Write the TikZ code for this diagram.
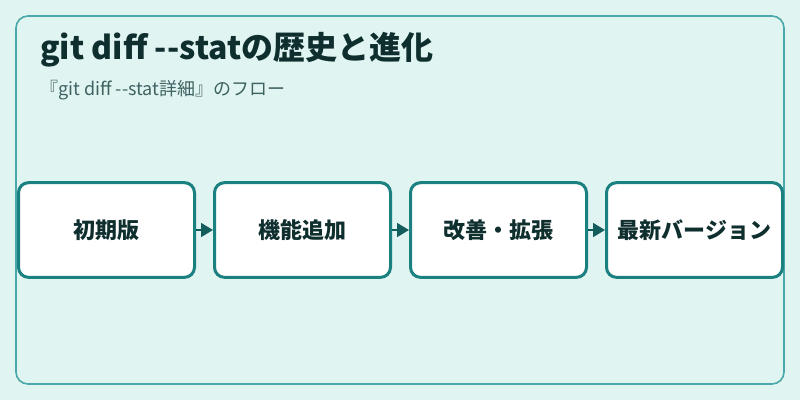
\documentclass[tikz,border=0pt]{standalone}
\usepackage{fontspec}
\setmainfont{Noto Sans CJK JP}
\usepackage{tikz}
\usetikzlibrary{positioning,arrows.meta}

\definecolor{bgcol}{HTML}{E0F4F2}
\definecolor{framecol}{HTML}{4AA8A8}
\definecolor{boxcol}{HTML}{1A8080}
\definecolor{arrowcol}{HTML}{135C5C}
\definecolor{titlecol}{HTML}{0F2E2E}
\definecolor{subcol}{HTML}{3F6262}

\tikzset{
  stage/.style={draw=boxcol, line width=2.25pt, fill=white, rounded corners=7.5pt,
    minimum width=132pt, minimum height=71pt, inner sep=0pt,
    font=\fontsize{16.5}{19}\selectfont\bfseries, text=titlecol},
  flow/.style={-{Triangle[length=9pt,width=10.5pt]}, arrowcol, line width=1.2pt}
}

\begin{document}
\begin{tikzpicture}[x=0.75pt, y=-0.75pt, node distance=12.75pt]
    \useasboundingbox (0,0) rectangle (800,400);
    \fill[bgcol] (0,0) rectangle (800,400);
    \draw[framecol, line width=1.2pt, rounded corners=9pt] (16,16) rectangle (784,384);

    \node[anchor=base west, text=titlecol, font=\fontsize{24}{28}\selectfont\bfseries, inner sep=0pt] (title) at (40,59) {git diff -{}-statの歴史と進化};
    \node[anchor=base west, text=subcol, font=\fontsize{13.5}{16}\selectfont, inner sep=0pt] (subtitle) at (40,95) {『git diff -{}-stat詳細』のフロー};

    \node[stage] (v1) at (106.5,230) {初期版};
    \node[stage, right=of v1] (v2) {機能追加};
    \node[stage, right=of v2] (v3) {改善・拡張};
    \node[stage, right=of v3] (v4) {最新バージョン};

    \draw[flow] (v1) -- (v2);
    \draw[flow] (v2) -- (v3);
    \draw[flow] (v3) -- (v4);
\end{tikzpicture}
\end{document}
